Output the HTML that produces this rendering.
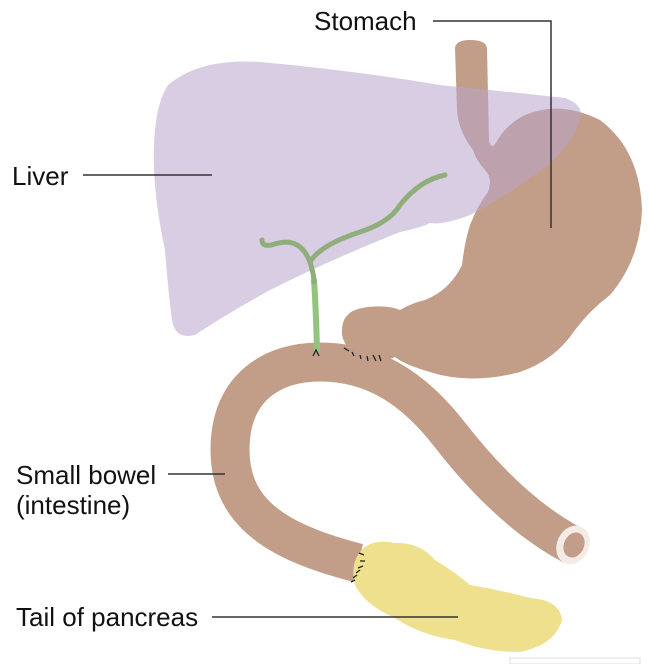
<!DOCTYPE html>
<html><head><meta charset="utf-8"><style>
html,body{margin:0;padding:0;background:#fff;}
svg{display:block;}
text{font-family:"Liberation Sans",Arial,sans-serif;font-size:26px;fill:#111;}
</style></head><body>
<svg width="648" height="664" viewBox="0 0 648 664" xmlns="http://www.w3.org/2000/svg">
<!-- stomach -->
<path fill="#c29e88" d="M455,48 Q456,40 470,40 Q486,40 487,48 L489,140 Q490,150 496,143 Q505,125 525,115 Q560,100 600,120 Q640,150 642,210 Q640,260 610,295 Q590,310 575,330 Q555,360 520,372 Q470,385 430,372 Q405,365 395,357 Q385,362 370,358 Q345,352 342,335 Q340,312 362,308 Q385,304 400,310 Q412,303 425,300 Q450,290 462,265 Q465,240 470,225 Q478,205 488,192 Q493,178 485,170 Q476,160 473,150 Q458,130 457,110 Z"/>
<!-- bowel -->
<path fill="none" stroke="#c29e88" stroke-width="39" d="M358,563 C290,545 230,520 230,450 C230,385 275,362 320,362 C375,362 415,390 450,435 C485,480 525,520 572,545"/>
<ellipse cx="573" cy="545" rx="16" ry="20" transform="rotate(25 573 545)" fill="#f4ebe6"/>
<ellipse cx="574" cy="545" rx="10" ry="13" transform="rotate(25 574 545)" fill="#c29e88"/>
<!-- pancreas -->
<path fill="#efe08e" d="M360,552 Q370,538 395,543 Q420,542 435,560 Q455,572 470,585 Q500,590 530,598 Q560,600 562,620 Q555,645 520,652 Q485,652 455,640 Q420,635 395,618 Q365,605 355,585 Q350,565 360,552 Z"/>
<!-- bile duct lower (bright) -->
<path d="M314,280 Q316,310 317,350" fill="none" stroke="#93c47d" stroke-width="6" stroke-linecap="round"/>
<!-- liver -->
<path fill="#b9a4cc" fill-opacity="0.55" d="M168,85 Q200,58 260,62 Q350,70 440,85 Q520,93 565,98 Q585,105 580,120 Q570,150 535,175 Q500,200 470,215 Q445,225 430,223 Q420,228 400,232 Q330,260 270,290 Q220,318 195,335 Q175,340 172,320 Q168,290 165,250 Q150,180 155,130 Q158,100 168,85 Z"/>
<!-- bile duct -->
<g fill="none" stroke="#8fae7b" stroke-width="5" stroke-linecap="round">
<path d="M262,240 Q262,248 275,244 Q300,236 310,262 Q314,275 314,282"/>
<path d="M310,262 Q320,245 360,232 Q390,222 400,205 Q420,180 445,175"/>
</g>
<!-- sutures -->
<g stroke="#222" stroke-width="1.3" fill="none">
<path d="M313,356 L316,350 L319,356"/>
<line x1="344" y1="348" x2="349" y2="351"/><line x1="352" y1="352" x2="354" y2="356"/><line x1="360" y1="355" x2="361" y2="359"/><line x1="367" y1="356" x2="368" y2="361"/><line x1="373" y1="355" x2="376" y2="361"/><line x1="379" y1="355" x2="381" y2="361"/>
<line x1="359" y1="553" x2="364" y2="555"/><line x1="360" y1="561" x2="365" y2="561"/><line x1="358" y1="568" x2="363" y2="566"/><line x1="356" y1="573" x2="360" y2="570"/><line x1="353" y1="578" x2="357" y2="575"/><line x1="351" y1="582" x2="355" y2="580"/>
</g>
<!-- leader lines -->
<g stroke="#333" stroke-width="1.5" fill="none">
<path d="M433,21 H551 V228"/>
<line x1="83" y1="175" x2="212" y2="175"/>
<line x1="168" y1="474" x2="225" y2="474"/>
<line x1="212" y1="617" x2="458" y2="617"/>
</g>
<text x="314" y="30">Stomach</text>
<text x="12" y="185">Liver</text>
<text x="16" y="484">Small bowel</text>
<text x="16" y="514">(intestine)</text>
<text x="16" y="626">Tail of pancreas</text>
<rect x="510" y="658" width="130" height="6" fill="none" stroke="#ddd"/>
</svg>
</body></html>
